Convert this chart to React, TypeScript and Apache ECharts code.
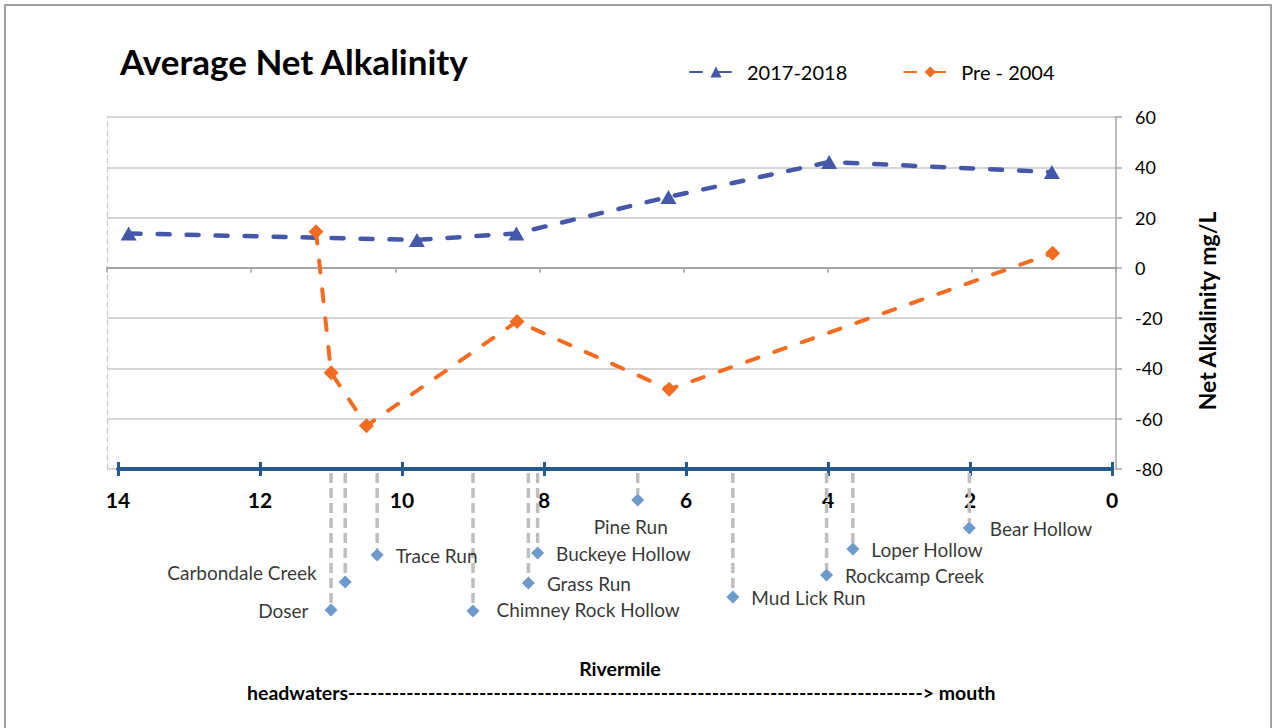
import React, { useEffect, useRef } from "react";
import * as echarts from "echarts";

// 2017-2018 survey (rivermile, net alkalinity mg/L)
const riverMile2017 = [13.7, 9.7, 8.32, 6.21, 3.98, 0.89];
const alk2017 = [13.7, 11.1, 13.7, 28.2, 42.1, 38.1];

// Pre-2004 survey
const riverMilePre2004 = [11.1, 10.89, 10.4, 8.31, 6.2, 0.88];
const alkPre2004 = [14.4, -41.7, -62.8, -21.3, -48.3, 5.8];

// Tributaries entering the stream
const tributaryNames = [
  "Doser",
  "Carbondale Creek",
  "Trace Run",
  "Chimney Rock Hollow",
  "Grass Run",
  "Buckeye Hollow",
  "Pine Run",
  "Mud Lick Run",
  "Rockcamp Creek",
  "Loper Hollow",
  "Bear Hollow",
];
const tributaryMile = [11.0, 10.8, 10.35, 9.0, 8.22, 8.09, 6.68, 5.34, 4.02, 3.65, 2.01];
// label stagger depth below the rivermile axis
const tributaryDepth = [141, 113, 86, 142, 114, 84, 31, 128, 106, 80, 59];

const seriesNames = ["2017-2018", "Pre - 2004"];
const titleText = "Average Net Alkalinity";
const yAxisTitle = "Net Alkalinity mg/L";
const xAxisTitle = "Rivermile";
const directionText =
  "headwaters-------------------------------------------------------------------------------> mouth";

// label placement (style)
const labelSide = ["left", "left", "right", "right", "right", "right", "bottom", "right", "right", "right", "right"];
const labelShift: number[][] = [[-4, 0], [-10, -10], [0, 0], [5, -2], [0, 0], [0, 0], [-7, -2], [0, 0], [0, 0], [0, 0], [2, 0]];

const FONT = "Lato, 'Open Sans', sans-serif";
const BLUE = "#4457A8";
const ORANGE = "#F26D21";
const AXIS_BLUE = "#255A8E";

export default function App() {
  const ref = useRef<HTMLDivElement>(null);

  useEffect(() => {
    if (!ref.current) return;
    const chart = echarts.init(ref.current, null, { renderer: "svg" });

    const blueData = riverMile2017.map((m, i) => [m, alk2017[i]]);
    const orangeData = riverMilePre2004.map((m, i) => [m, alkPre2004[i]]);
    const tribData = tributaryNames.map((n, i) => ({
      name: n,
      value: [tributaryMile[i], tributaryDepth[i]],
      label: {
        position: labelSide[i],
        offset: labelShift[i],
      },
    }));

    const option: any = {
      animation: false,
      backgroundColor: "#ffffff",
      textStyle: { fontFamily: FONT },
      title: {
        text: titleText,
        left: 115,
        top: 38,
        textStyle: { fontFamily: FONT, fontWeight: "bold", fontSize: 35, color: "#000" },
      },
      legend: {
        data: seriesNames,
        left: 684,
        top: 57,
        itemWidth: 52,
        itemHeight: 14,
        itemGap: 56,
        textStyle: { fontFamily: FONT, fontSize: 20, color: "#000" },
      },
      grid: [
        { left: 107, top: 117, width: 1009, height: 352 },
        { left: 118, top: 469, width: 994, height: 150 },
      ],
      xAxis: [
        {
          gridIndex: 0,
          type: "value",
          min: 0,
          max: 14,
          interval: 2,
          inverse: true,
          position: "bottom",
          axisLine: { show: true, onZero: true, lineStyle: { color: "#A6A6A6", width: 2 } },
          axisTick: { show: true, length: 5, lineStyle: { color: "#A6A6A6", width: 1.5 } },
          axisLabel: { show: false },
          splitLine: { show: false },
        },
        {
          gridIndex: 1,
          type: "value",
          min: 0,
          max: 14,
          interval: 2,
          inverse: true,
          position: "top",
          axisLine: { show: true, onZero: false, lineStyle: { color: AXIS_BLUE, width: 4 } },
          axisTick: { show: true, length: 7, lineStyle: { color: AXIS_BLUE, width: 3 } },
          axisLabel: { show: false },
          splitLine: { show: false },
        },
        {
          gridIndex: 1,
          type: "value",
          min: 0,
          max: 14,
          interval: 2,
          inverse: true,
          position: "top",
          axisLine: { show: false, onZero: false },
          axisTick: { show: true, inside: true, length: 7, lineStyle: { color: AXIS_BLUE, width: 3 } },
          axisLabel: {
            show: true,
            inside: true,
            margin: 20,
            fontFamily: FONT,
            fontWeight: "bold",
            fontSize: 21,
            color: "#000",
          },
          splitLine: { show: false },
        },
      ],
      yAxis: [
        {
          gridIndex: 0,
          type: "value",
          position: "right",
          min: -80,
          max: 60,
          interval: 20,
          name: yAxisTitle,
          nameLocation: "middle",
          nameRotate: 90,
          nameGap: 79,
          nameTextStyle: { fontFamily: FONT, fontWeight: "bold", fontSize: 23, color: "#000", padding: [0, 36, 0, 0] },
          axisLine: { show: true, onZero: false, lineStyle: { color: "#A6A6A6", width: 1.5 } },
          axisTick: { show: true, length: 6, lineStyle: { color: "#A6A6A6", width: 1.5 } },
          axisLabel: { margin: 19, fontFamily: FONT, fontSize: 18, color: "#000" },
          splitLine: { show: true, lineStyle: { color: "#C8C8C8", width: 1.5 } },
        },
        {
          gridIndex: 0,
          type: "value",
          position: "left",
          min: -80,
          max: 60,
          interval: 20,
          axisLine: { show: true, onZero: false, lineStyle: { color: "#C8C8C8", width: 1.2, type: [5, 4] } },
          axisTick: { show: false },
          axisLabel: { show: false },
          splitLine: { show: false },
        },
        {
          gridIndex: 1,
          type: "value",
          min: 0,
          max: 150,
          inverse: true,
          show: false,
        },
      ],
      series: [
        {
          name: seriesNames[0],
          type: "line",
          xAxisIndex: 0,
          yAxisIndex: 0,
          data: blueData,
          symbol: "triangle",
          symbolSize: [16, 14],
          itemStyle: { color: BLUE },
          lineStyle: { color: BLUE, width: 4.5, type: [12, 17], cap: "round" },
          z: 5,
        },
        {
          name: seriesNames[1],
          type: "line",
          xAxisIndex: 0,
          yAxisIndex: 0,
          data: orangeData,
          symbol: "diamond",
          symbolSize: 15,
          itemStyle: { color: ORANGE },
          lineStyle: { color: ORANGE, width: 4, type: [12, 17], cap: "round" },
          z: 6,
        },
        {
          name: "drop",
          type: "custom",
          xAxisIndex: 1,
          yAxisIndex: 2,
          silent: true,
          data: tributaryMile.map((m, i) => [m, tributaryDepth[i]]),
          renderItem: (params: any, api: any) => {
            const p0 = api.coord([api.value(0), 4]);
            const p1 = api.coord([api.value(0), api.value(1) - 6]);
            return {
              type: "line",
              shape: { x1: p0[0], y1: p0[1], x2: p1[0], y2: p1[1] },
              style: { stroke: "#BFBFBF", lineWidth: 3.5, lineDash: [10, 5] },
            };
          },
          z: 2,
        },
        {
          name: "Tributaries",
          type: "scatter",
          xAxisIndex: 1,
          yAxisIndex: 2,
          data: tribData,
          symbol: "diamond",
          symbolSize: 13,
          itemStyle: { color: "#4A7FC1" },
          label: {
            show: true,
            formatter: "{b}",
            distance: 12,
            fontFamily: FONT,
            fontSize: 19,
            color: "#000",
          },
          z: 4,
        },
      ],
      graphic: [
        {
          type: "rect",
          shape: { x: 5, y: 5, width: 1266, height: 760 },
          style: { fill: "none", stroke: "#A0A0A0", lineWidth: 2 },
          silent: true,
        },
        {
          type: "text",
          x: 620,
          y: 668,
          style: {
            text: xAxisTitle,
            align: "center",
            verticalAlign: "middle",
            font: `bold 19.5px ${FONT}`,
            fill: "#000",
          },
        },
        {
          type: "text",
          x: 247,
          y: 692,
          style: {
            text: directionText,
            align: "left",
            verticalAlign: "middle",
            font: `bold 19.5px ${FONT}`,
            fill: "#000",
          },
        },
      ],
    };

    chart.setOption(option);
    return () => chart.dispose();
  }, []);

  return (
    <div
      ref={ref}
      style={{ position: "fixed", left: 0, top: 0, width: 1273, height: 728, background: "#fff" }}
    />
  );
}
